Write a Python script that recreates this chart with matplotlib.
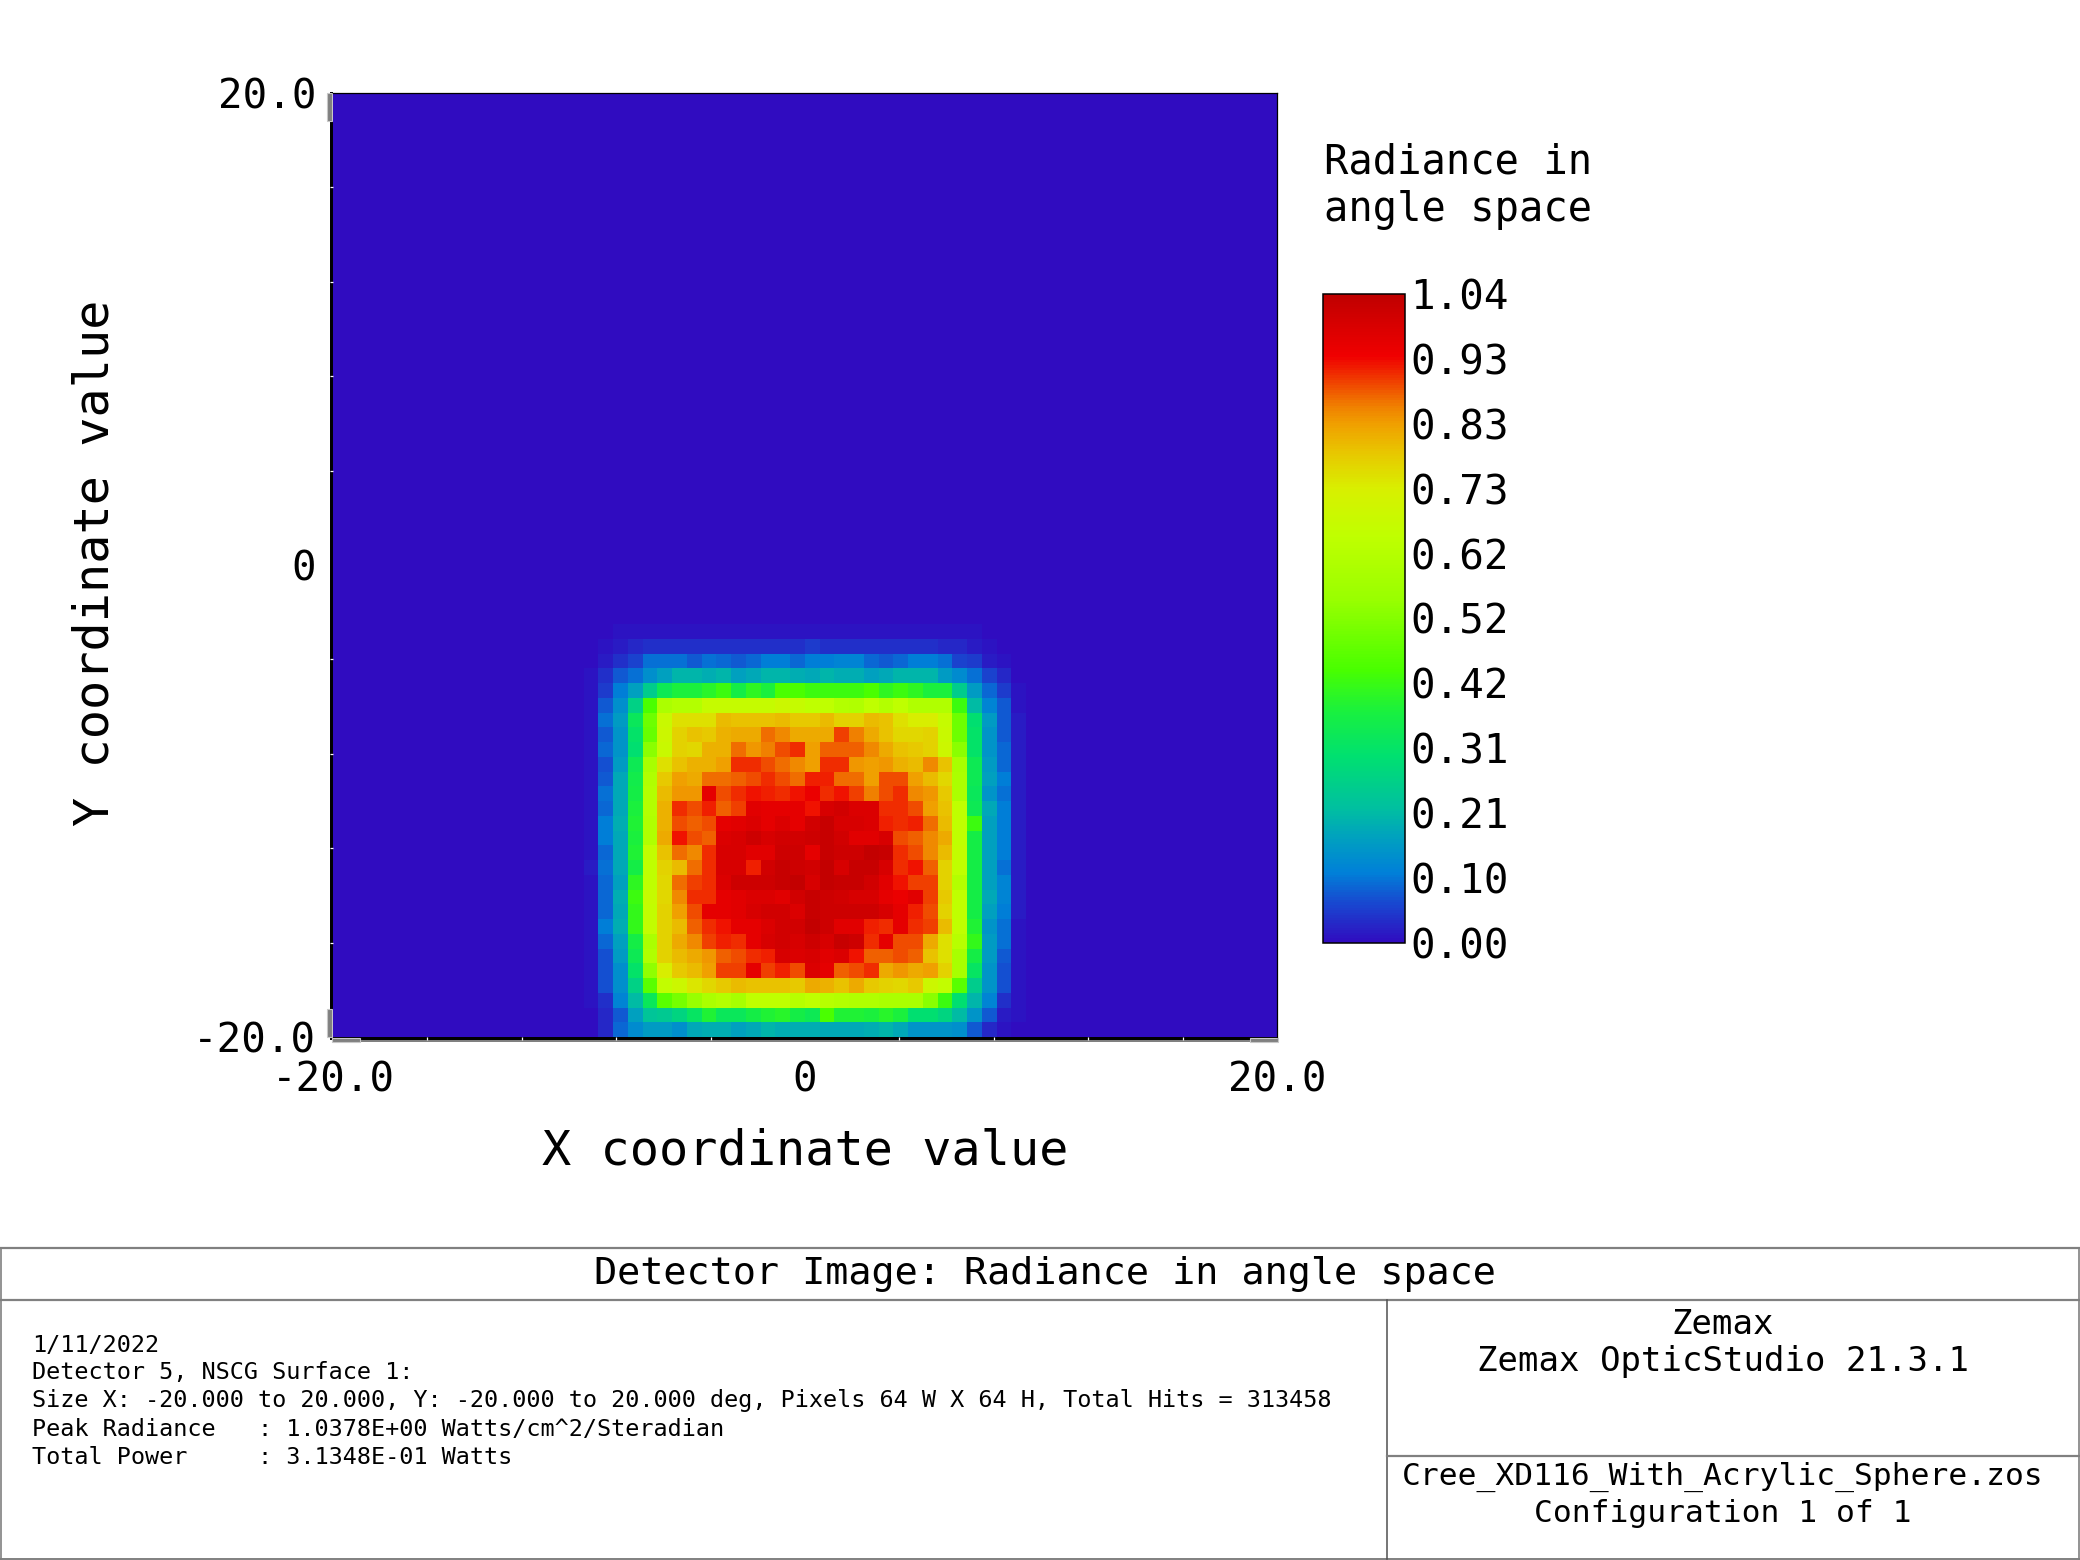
import numpy as np
import matplotlib
matplotlib.use('Agg')
import matplotlib.pyplot as plt
from matplotlib.colors import LinearSegmentedColormap
from matplotlib.patches import Rectangle

# radiance x100, top row first
# (only the lit part of the 64x64 detector, the rest is 0)
lit_rows = [
    [0,0,0,1,1,1,1,1,1,1,1,1,1,1,1,1,1,1,1,1,1,1,1,1,1,1,1,1,0,0,0],
    [0,0,1,2,3,4,4,4,4,4,4,4,4,4,4,4,5,4,4,4,4,4,4,4,4,3,3,2,1,0,0],
    [0,0,2,4,6,10,10,10,8,10,9,8,9,11,11,9,11,11,12,12,9,8,9,11,11,10,6,5,2,1,0],
    [0,1,4,8,10,14,17,20,20,19,20,17,18,20,20,19,18,20,19,19,17,18,20,20,20,16,13,10,6,3,0],
    [0,1,5,11,17,25,34,37,37,39,42,36,40,37,44,44,42,42,42,42,44,40,42,40,37,37,25,16,9,5,1],
    [0,1,8,14,26,44,60,62,62,67,67,67,67,67,69,67,65,65,62,61,65,62,65,61,61,61,42,21,12,8,1],
    [0,1,10,16,33,49,68,75,75,75,80,79,79,79,80,78,78,80,77,77,80,79,75,73,73,67,49,30,16,8,2],
    [0,1,8,15,31,48,69,77,79,78,81,82,82,87,85,82,82,82,90,86,82,79,76,76,77,68,49,31,15,8,2],
    [0,1,9,15,30,53,68,77,76,81,81,87,84,86,89,91,83,88,88,88,85,82,79,78,77,69,53,31,15,9,2],
    [0,1,7,16,34,59,75,79,81,81,83,91,91,89,87,85,83,91,91,84,83,84,81,80,85,79,59,34,16,9,2],
    [0,1,8,18,35,61,78,83,82,87,87,88,89,91,89,87,92,92,87,87,83,89,89,83,80,76,60,34,17,11,2],
    [0,1,10,18,36,62,80,84,84,96,89,91,93,92,91,93,95,91,93,90,86,89,91,85,84,78,60,33,15,10,2],
    [0,1,9,18,37,62,81,91,89,92,88,90,97,96,96,96,93,99,100,98,98,91,91,89,83,79,65,34,18,11,2],
    [0,1,11,19,38,61,81,89,88,89,96,97,98,96,98,96,100,102,99,99,98,92,91,92,87,80,65,42,17,11,2],
    [0,1,11,18,37,61,82,93,89,88,98,99,101,99,100,100,101,102,100,97,97,99,89,88,85,82,65,36,17,11,2],
    [0,1,9,18,38,66,79,87,85,91,99,99,97,97,101,101,96,102,101,101,103,102,91,89,85,80,66,36,17,11,2],
    [0,2,10,18,36,65,77,80,87,91,99,99,92,100,102,101,100,103,99,102,102,99,91,93,88,77,65,36,17,10,2],
    [0,1,9,17,40,65,76,87,90,91,98,101,101,101,102,103,99,103,102,102,100,97,93,90,90,77,62,36,17,12,2],
    [0,1,9,19,42,67,76,85,91,91,96,97,98,98,97,100,102,101,100,99,99,96,95,97,90,78,65,36,18,12,2],
    [0,1,9,18,41,66,77,83,89,96,96,97,99,100,100,98,102,101,101,101,101,99,96,92,89,77,65,36,17,11,2],
    [0,1,11,19,41,66,77,80,88,91,93,96,96,98,100,100,103,101,97,97,92,91,96,91,90,80,65,38,15,10,1],
    [0,1,9,17,36,60,77,82,85,90,92,91,96,99,100,99,101,99,102,101,91,96,89,89,82,75,63,41,16,10,1],
    [0,1,7,16,34,61,77,80,82,84,88,89,91,92,99,98,99,97,98,93,88,88,89,88,79,75,59,36,16,8,1],
    [0,1,7,14,31,54,73,78,80,83,90,90,96,90,92,89,98,96,88,89,91,82,84,82,83,77,59,32,15,7,1],
    [0,1,7,14,26,46,66,69,74,76,78,80,79,79,79,78,82,81,79,82,78,77,76,78,69,66,46,25,15,7,1],
    [0,1,4,12,21,33,46,50,55,60,62,59,65,65,65,63,65,63,62,61,61,60,60,60,53,42,30,20,12,4,1],
    [0,0,3,8,17,23,24,27,32,38,33,33,36,38,39,36,34,44,38,38,37,39,37,30,30,27,21,15,8,2,1],
    [0,0,3,9,13,16,16,14,18,19,19,17,18,20,19,19,19,18,18,18,19,20,18,15,15,15,14,8,3,1,0],
]
first_col = 16
n_pix = 64

cbar_ticks = np.linspace(0, 1.04, 11)
cbar_labels = ['0.00', '0.10', '0.21', '0.31', '0.42', '0.52', '0.62', '0.73', '0.83', '0.93', '1.04']
xy_labels = ['-20.0', '0', '20.0']

# false colour scale, sampled from the legend bar
cmap_stops = [
    (0.000, '#300cc0'), (0.060, '#1848d0'), (0.107, '#0080d8'), (0.160, '#00a0c0'),
    (0.207, '#00c0a0'), (0.287, '#00e070'), (0.354, '#18f040'), (0.420, '#48ff00'),
    (0.528, '#98ff00'), (0.628, '#c0ff00'), (0.700, '#d8f000'), (0.755, '#e8c800'),
    (0.800, '#f0a000'), (0.828, '#f08000'), (0.905, '#f00000'), (1.000, '#c00000'),
]
cmap = LinearSegmentedColormap.from_list('zemax', cmap_stops, N=256)

W, H = 2080, 1560
FONT = 'DejaVu Sans Mono'
plt.rcParams['font.family'] = FONT

grid = np.zeros((n_pix, n_pix))
lit = np.array(lit_rows)[::-1] / 100.0
grid[:lit.shape[0], first_col:first_col + lit.shape[1]] = lit


def px_axes(x0, y0, x1, y1, **kw):
    return fig.add_axes([x0 / W, 1 - y1 / H, (x1 - x0) / W, (y1 - y0) / H], **kw)


fig = plt.figure(figsize=(W / 100, H / 100), dpi=100)

# overlay in pixel coords for the frame strips and the title block
bg = px_axes(0, 0, W, H, zorder=0)
bg.set_xlim(0, W)
bg.set_ylim(H, 0)
bg.axis('off')

ax = px_axes(333, 93, 1277, 1037, zorder=1)
im = ax.imshow(grid, origin='lower', extent=[-20, 20, -20, 20], cmap=cmap, vmin=0, vmax=1.04,
               aspect='auto', interpolation='nearest')
ax.set_xticks([-20, 0, 20], xy_labels)
ax.set_yticks([-20, 0, 20], ['-20.0', '0', '20.0'])
ax.tick_params(axis='both', which='major', length=0, labelsize=29.4)
ax.tick_params(axis='x', which='major', pad=17)
ax.tick_params(axis='y', which='major', pad=12)
ax.set_xticks(np.arange(-16, 17, 4), minor=True)
ax.set_yticks(np.arange(-16, 17, 4), minor=True)
ax.tick_params(axis='both', which='minor', length=2.2, width=0.9, color='white')
ax.spines['left'].set_visible(False)
ax.spines['bottom'].set_visible(False)
ax.spines['top'].set_linewidth(0.9)
ax.spines['right'].set_linewidth(0.9)

# heavy left/bottom edge and the grey corner handles
bg.add_patch(Rectangle((330, 92), 3, 948, fc='black', ec='none'))
bg.add_patch(Rectangle((330, 1037), 948, 3, fc='black', ec='none'))
bg.add_patch(Rectangle((360, 1040), 890, 2, fc='#808080', ec='none'))
for x, y, w, h in [(327, 93, 5, 28), (327, 1009, 5, 28), (332, 1038, 28, 4), (1250, 1038, 28, 4)]:
    bg.add_patch(Rectangle((x, y), w, h, fc='#808080', ec='#c8c8c8', lw=0.8, zorder=3))

bg.text(805, 1151, 'X coordinate value', ha='center', va='center', fontsize=34.9)
bg.text(95, 563, 'Y coordinate value', ha='center', va='center', rotation=90, fontsize=34.9)

# legend bar
cax = px_axes(1323, 294, 1405, 943, zorder=1)
cb = fig.colorbar(im, cax=cax, ticks=cbar_ticks)
cb.ax.set_yticklabels(cbar_labels)
cb.ax.tick_params(length=0, pad=4, labelsize=29.4)
cb.outline.set_linewidth(1.1)
bg.text(1324, 162, 'Radiance in', va='center', fontsize=29.2)
bg.text(1324, 210, 'angle space', va='center', fontsize=29.2)

# title block
grey = '#808080'
bg.plot([0, W], [1248, 1248], color=grey, lw=1.6)
bg.plot([0, W], [1300, 1300], color=grey, lw=1.6)
bg.plot([0, W], [1559, 1559], color=grey, lw=1.4)
bg.plot([1, 1], [1248, 1559], color=grey, lw=1.2)
bg.plot([W - 1, W - 1], [1248, 1559], color=grey, lw=1.2)
bg.plot([1387, 1387], [1300, 1559], color='#505050', lw=1.1)
bg.plot([1387, W], [1456, 1456], color=grey, lw=1.6)

bg.text(1045, 1274, 'Detector Image: Radiance in angle space', ha='center', va='center', fontsize=27.7)

detail_lines = [
    '1/11/2022',
    'Detector 5, NSCG Surface 1:',
    'Size X: -20.000 to 20.000, Y: -20.000 to 20.000 deg, Pixels 64 W X 64 H, Total Hits = 313458',
    'Peak Radiance   : 1.0378E+00 Watts/cm^2/Steradian',
    'Total Power     : 3.1348E-01 Watts',
]
detail_y = [1345, 1373, 1400, 1429, 1458]
for line, y in zip(detail_lines, detail_y):
    bg.text(32, y, line, va='center', fontsize=16.9)

bg.text(1723, 1325, 'Zemax', ha='center', va='center', fontsize=24.5)
bg.text(1723, 1362, 'Zemax OpticStudio 21.3.1', ha='center', va='center', fontsize=24.5)
bg.text(1723, 1477, 'Cree_XD116_With_Acrylic_Sphere.zos', ha='center', va='center', fontsize=22.5)
bg.text(1723, 1514, 'Configuration 1 of 1', ha='center', va='center', fontsize=22.5)

fig.savefig('out.png', dpi=100)
plt.close(fig)
